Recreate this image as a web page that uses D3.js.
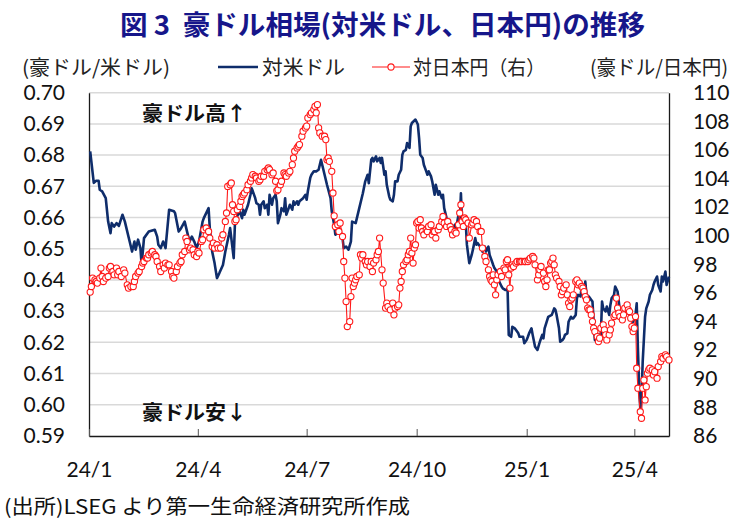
<!DOCTYPE html>
<html><head><meta charset="utf-8">
<script src="https://cdn.jsdelivr.net/npm/d3@7"></script>
<style>body{margin:0;background:#fff}svg{display:block}text{white-space:pre}</style>
</head><body>
<svg id="chart" width="751" height="525"></svg>
<script>
const usdDates = ["2024-01-02","2024-01-05","2024-01-07","2024-01-09","2024-01-10","2024-01-12","2024-01-15","2024-01-17","2024-01-19","2024-01-20","2024-01-22","2024-01-24","2024-01-26","2024-01-29","2024-01-31","2024-02-01","2024-02-04","2024-02-06","2024-02-08","2024-02-09","2024-02-11","2024-02-13","2024-02-14","2024-02-16","2024-02-20","2024-02-25","2024-02-27","2024-02-28","2024-03-01","2024-03-03","2024-03-05","2024-03-08","2024-03-12","2024-03-13","2024-03-16","2024-03-18","2024-03-21","2024-03-23","2024-03-25","2024-03-27","2024-03-29","2024-03-31","2024-04-02","2024-04-05","2024-04-06","2024-04-10","2024-04-11","2024-04-13","2024-04-15","2024-04-17","2024-04-19","2024-04-22","2024-04-24","2024-04-27","2024-04-28","2024-05-01","2024-05-02","2024-05-03","2024-05-06","2024-05-08","2024-05-09","2024-05-10","2024-05-13","2024-05-15","2024-05-16","2024-05-17","2024-05-19","2024-05-20","2024-05-22","2024-05-23","2024-05-24","2024-05-26","2024-05-27","2024-05-29","2024-05-30","2024-05-31","2024-06-02","2024-06-03","2024-06-05","2024-06-06","2024-06-07","2024-06-09","2024-06-10","2024-06-12","2024-06-13","2024-06-14","2024-06-16","2024-06-17","2024-06-19","2024-06-20","2024-06-21","2024-06-23","2024-06-24","2024-06-25","2024-06-28","2024-06-30","2024-07-01","2024-07-02","2024-07-04","2024-07-05","2024-07-07","2024-07-09","2024-07-11","2024-07-13","2024-07-14","2024-07-16","2024-07-18","2024-07-21","2024-07-22","2024-07-24","2024-07-25","2024-07-28","2024-07-31","2024-08-01","2024-08-03","2024-08-05","2024-08-07","2024-08-08","2024-08-11","2024-08-12","2024-08-14","2024-08-17","2024-08-19","2024-08-21","2024-08-22","2024-08-24","2024-08-25","2024-08-26","2024-08-28","2024-08-29","2024-08-31","2024-09-01","2024-09-02","2024-09-04","2024-09-05","2024-09-06","2024-09-08","2024-09-09","2024-09-11","2024-09-12","2024-09-13","2024-09-15","2024-09-16","2024-09-18","2024-09-19","2024-09-20","2024-09-22","2024-09-23","2024-09-25","2024-09-26","2024-09-27","2024-09-30","2024-10-02","2024-10-03","2024-10-04","2024-10-06","2024-10-07","2024-10-09","2024-10-10","2024-10-11","2024-10-13","2024-10-14","2024-10-16","2024-10-17","2024-10-19","2024-10-20","2024-10-22","2024-10-23","2024-10-24","2024-10-26","2024-10-27","2024-10-29","2024-10-30","2024-10-31","2024-11-02","2024-11-03","2024-11-05","2024-11-06","2024-11-07","2024-11-08","2024-11-10","2024-11-11","2024-11-12","2024-11-14","2024-11-16","2024-11-17","2024-11-19","2024-11-20","2024-11-21","2024-11-23","2024-11-24","2024-11-25","2024-11-27","2024-11-28","2024-11-30","2024-12-01","2024-12-02","2024-12-04","2024-12-05","2024-12-07","2024-12-08","2024-12-09","2024-12-11","2024-12-12","2024-12-14","2024-12-15","2024-12-16","2024-12-17","2024-12-19","2024-12-20","2024-12-22","2024-12-25","2024-12-26","2024-12-29","2024-12-30","2025-01-01","2025-01-02","2025-01-03","2025-01-05","2025-01-06","2025-01-08","2025-01-10","2025-01-12","2025-01-14","2025-01-15","2025-01-16","2025-01-19","2025-01-22","2025-01-24","2025-01-25","2025-01-26","2025-01-28","2025-01-29","2025-01-31","2025-02-01","2025-02-02","2025-02-04","2025-02-05","2025-02-07","2025-02-08","2025-02-09","2025-02-11","2025-02-12","2025-02-13","2025-02-15","2025-02-16","2025-02-18","2025-02-19","2025-02-20","2025-02-22","2025-02-23","2025-02-25","2025-02-26","2025-02-27","2025-03-01","2025-03-02","2025-03-04","2025-03-05","2025-03-06","2025-03-08","2025-03-09","2025-03-11","2025-03-12","2025-03-13","2025-03-15","2025-03-16","2025-03-18","2025-03-19","2025-03-20","2025-03-22","2025-03-23","2025-03-24","2025-03-26","2025-03-27","2025-03-29","2025-03-30","2025-03-31","2025-04-02","2025-04-03","2025-04-04","2025-04-05","2025-04-06","2025-04-07","2025-04-08","2025-04-10","2025-04-11","2025-04-13","2025-04-14","2025-04-16","2025-04-17","2025-04-18","2025-04-20","2025-04-21","2025-04-23","2025-04-24","2025-04-25","2025-04-27","2025-04-28","2025-04-30"];
const usdRates = [0.6812,0.6711,0.6718,0.6718,0.6689,0.6684,0.6662,0.6587,0.6550,0.6582,0.6571,0.6582,0.6573,0.6609,0.6587,0.6571,0.6523,0.6491,0.6523,0.6497,0.6529,0.6502,0.6448,0.6534,0.6555,0.6561,0.6539,0.6513,0.6502,0.6523,0.6502,0.6625,0.6620,0.6614,0.6555,0.6566,0.6587,0.6555,0.6523,0.6539,0.6523,0.6502,0.6523,0.6587,0.6598,0.6630,0.6566,0.6491,0.6454,0.6406,0.6422,0.6448,0.6491,0.6545,0.6566,0.6470,0.6577,0.6598,0.6620,0.6598,0.6625,0.6609,0.6641,0.6673,0.6694,0.6684,0.6662,0.6646,0.6641,0.6609,0.6641,0.6652,0.6630,0.6641,0.6609,0.6673,0.6641,0.6662,0.6673,0.6652,0.6582,0.6609,0.6630,0.6620,0.6662,0.6609,0.6630,0.6641,0.6625,0.6652,0.6641,0.6652,0.6641,0.6652,0.6662,0.6673,0.6657,0.6684,0.6727,0.6737,0.6748,0.6748,0.6753,0.6785,0.6769,0.6737,0.6705,0.6662,0.6620,0.6577,0.6545,0.6555,0.6534,0.6502,0.6507,0.6497,0.6523,0.6587,0.6582,0.6598,0.6630,0.6678,0.6716,0.6737,0.6710,0.6785,0.6791,0.6780,0.6796,0.6780,0.6791,0.6775,0.6791,0.6737,0.6748,0.6705,0.6668,0.6657,0.6652,0.6673,0.6716,0.6716,0.6737,0.6753,0.6801,0.6812,0.6817,0.6839,0.6823,0.6892,0.6903,0.6914,0.6898,0.6855,0.6801,0.6791,0.6769,0.6748,0.6737,0.6748,0.6732,0.6716,0.6673,0.6705,0.6673,0.6684,0.6662,0.6673,0.6630,0.6598,0.6587,0.6582,0.6571,0.6566,0.6577,0.6566,0.6609,0.6587,0.6678,0.6577,0.6582,0.6587,0.6513,0.6454,0.6480,0.6497,0.6534,0.6513,0.6518,0.6507,0.6502,0.6491,0.6507,0.6491,0.6507,0.6480,0.6470,0.6448,0.6438,0.6427,0.6411,0.6395,0.6379,0.6373,0.6368,0.6368,0.6373,0.6224,0.6218,0.6250,0.6245,0.6229,0.6218,0.6218,0.6197,0.6208,0.6218,0.6229,0.6245,0.6224,0.6186,0.6176,0.6202,0.6224,0.6213,0.6245,0.6282,0.6288,0.6309,0.6304,0.6288,0.6245,0.6202,0.6208,0.6213,0.6224,0.6229,0.6266,0.6282,0.6277,0.6277,0.6288,0.6341,0.6352,0.6347,0.6379,0.6352,0.6395,0.6352,0.6347,0.6341,0.6331,0.6266,0.6208,0.6202,0.6224,0.6224,0.6331,0.6309,0.6299,0.6315,0.6288,0.6320,0.6341,0.6352,0.6379,0.6363,0.6331,0.6299,0.6288,0.6283,0.6299,0.6304,0.6293,0.6283,0.6277,0.6266,0.6288,0.6325,0.6181,0.6063,0.5988,0.6020,0.6138,0.6282,0.6309,0.6331,0.6352,0.6368,0.6384,0.6395,0.6411,0.6384,0.6363,0.6411,0.6395,0.6427,0.6384,0.6411];

const jpyDates = ["2024-01-02","2024-01-03","2024-01-04","2024-01-06","2024-01-07","2024-01-08","2024-01-10","2024-01-11","2024-01-12","2024-01-13","2024-01-15","2024-01-17","2024-01-18","2024-01-19","2024-01-21","2024-01-22","2024-01-24","2024-01-25","2024-01-26","2024-01-28","2024-01-30","2024-01-31","2024-02-02","2024-02-03","2024-02-05","2024-02-07","2024-02-08","2024-02-09","2024-02-11","2024-02-12","2024-02-14","2024-02-15","2024-02-16","2024-02-18","2024-02-19","2024-02-20","2024-02-22","2024-02-23","2024-02-25","2024-02-26","2024-02-27","2024-02-29","2024-03-01","2024-03-03","2024-03-04","2024-03-05","2024-03-07","2024-03-08","2024-03-10","2024-03-11","2024-03-12","2024-03-14","2024-03-15","2024-03-17","2024-03-18","2024-03-19","2024-03-21","2024-03-22","2024-03-23","2024-03-25","2024-03-26","2024-03-28","2024-03-29","2024-03-31","2024-04-01","2024-04-02","2024-04-04","2024-04-05","2024-04-06","2024-04-08","2024-04-10","2024-04-11","2024-04-13","2024-04-14","2024-04-15","2024-04-17","2024-04-18","2024-04-20","2024-04-21","2024-04-22","2024-04-24","2024-04-25","2024-04-26","2024-04-28","2024-04-29","2024-04-30","2024-05-01","2024-05-02","2024-05-03","2024-05-04","2024-05-06","2024-05-07","2024-05-08","2024-05-09","2024-05-10","2024-05-12","2024-05-13","2024-05-15","2024-05-16","2024-05-17","2024-05-19","2024-05-20","2024-05-22","2024-05-23","2024-05-24","2024-05-26","2024-05-27","2024-05-29","2024-05-30","2024-05-31","2024-06-02","2024-06-03","2024-06-05","2024-06-06","2024-06-07","2024-06-09","2024-06-10","2024-06-12","2024-06-13","2024-06-14","2024-06-16","2024-06-17","2024-06-19","2024-06-20","2024-06-21","2024-06-23","2024-06-24","2024-06-25","2024-06-27","2024-06-28","2024-06-30","2024-07-01","2024-07-02","2024-07-04","2024-07-05","2024-07-07","2024-07-08","2024-07-09","2024-07-10","2024-07-11","2024-07-12","2024-07-14","2024-07-16","2024-07-17","2024-07-18","2024-07-19","2024-07-20","2024-07-22","2024-07-23","2024-07-24","2024-07-25","2024-07-27","2024-07-28","2024-07-29","2024-07-31","2024-08-01","2024-08-02","2024-08-03","2024-08-04","2024-08-06","2024-08-07","2024-08-08","2024-08-09","2024-08-10","2024-08-11","2024-08-12","2024-08-14","2024-08-15","2024-08-16","2024-08-17","2024-08-19","2024-08-20","2024-08-21","2024-08-23","2024-08-24","2024-08-25","2024-08-26","2024-08-28","2024-08-29","2024-08-30","2024-08-31","2024-09-02","2024-09-03","2024-09-05","2024-09-06","2024-09-07","2024-09-09","2024-09-11","2024-09-12","2024-09-13","2024-09-15","2024-09-16","2024-09-17","2024-09-18","2024-09-19","2024-09-20","2024-09-22","2024-09-23","2024-09-24","2024-09-25","2024-09-26","2024-09-27","2024-09-28","2024-09-29","2024-09-30","2024-10-01","2024-10-02","2024-10-03","2024-10-04","2024-10-05","2024-10-06","2024-10-07","2024-10-09","2024-10-10","2024-10-11","2024-10-13","2024-10-14","2024-10-15","2024-10-16","2024-10-17","2024-10-19","2024-10-20","2024-10-22","2024-10-23","2024-10-24","2024-10-26","2024-10-27","2024-10-29","2024-10-30","2024-10-31","2024-11-02","2024-11-03","2024-11-05","2024-11-06","2024-11-07","2024-11-08","2024-11-09","2024-11-10","2024-11-11","2024-11-13","2024-11-14","2024-11-16","2024-11-17","2024-11-18","2024-11-20","2024-11-21","2024-11-23","2024-11-24","2024-11-25","2024-11-27","2024-11-28","2024-11-30","2024-12-01","2024-12-02","2024-12-03","2024-12-04","2024-12-05","2024-12-06","2024-12-07","2024-12-08","2024-12-10","2024-12-11","2024-12-13","2024-12-14","2024-12-15","2024-12-16","2024-12-17","2024-12-18","2024-12-19","2024-12-20","2024-12-21","2024-12-23","2024-12-24","2024-12-26","2024-12-27","2024-12-28","2024-12-30","2024-12-31","2025-01-02","2025-01-03","2025-01-04","2025-01-06","2025-01-07","2025-01-08","2025-01-10","2025-01-11","2025-01-12","2025-01-13","2025-01-15","2025-01-16","2025-01-17","2025-01-18","2025-01-19","2025-01-20","2025-01-21","2025-01-22","2025-01-23","2025-01-24","2025-01-25","2025-01-26","2025-01-28","2025-01-29","2025-01-30","2025-01-31","2025-02-01","2025-02-03","2025-02-04","2025-02-05","2025-02-06","2025-02-07","2025-02-08","2025-02-09","2025-02-11","2025-02-12","2025-02-13","2025-02-14","2025-02-16","2025-02-17","2025-02-18","2025-02-19","2025-02-20","2025-02-21","2025-02-22","2025-02-23","2025-02-24","2025-02-25","2025-02-26","2025-02-27","2025-03-01","2025-03-02","2025-03-03","2025-03-04","2025-03-06","2025-03-07","2025-03-08","2025-03-09","2025-03-11","2025-03-12","2025-03-13","2025-03-15","2025-03-16","2025-03-17","2025-03-18","2025-03-19","2025-03-20","2025-03-22","2025-03-23","2025-03-24","2025-03-26","2025-03-27","2025-03-28","2025-03-29","2025-03-30","2025-03-31","2025-04-01","2025-04-02","2025-04-03","2025-04-04","2025-04-06","2025-04-07","2025-04-08","2025-04-09","2025-04-10","2025-04-11","2025-04-12","2025-04-13","2025-04-14","2025-04-16","2025-04-17","2025-04-18","2025-04-20","2025-04-21","2025-04-23","2025-04-24","2025-04-25","2025-04-27","2025-04-28","2025-04-30"];
const jpyRates = [96.06,96.45,97.04,96.92,96.80,96.69,97.04,97.74,97.15,96.80,97.04,97.15,97.74,97.85,97.50,97.27,97.74,97.27,97.50,97.15,97.62,97.39,96.57,96.34,96.45,96.45,96.80,97.15,97.39,97.50,97.85,98.09,98.20,98.44,98.44,98.67,98.79,98.90,98.67,98.55,98.20,97.85,97.50,97.97,97.74,98.09,97.97,97.97,97.50,97.15,97.04,97.50,97.85,98.09,98.20,98.67,98.90,99.84,99.60,99.02,99.14,99.02,98.67,98.55,98.90,98.79,99.60,99.72,100.42,100.54,100.30,99.84,99.25,99.49,99.14,99.37,99.14,99.14,99.84,100.07,101.00,101.59,103.45,103.57,103.69,102.17,101.70,101.00,101.12,101.82,102.05,102.41,102.75,102.87,102.99,103.22,103.57,103.81,104.04,104.27,104.16,104.04,103.81,103.92,104.16,104.16,104.50,104.62,104.74,104.62,104.27,104.39,103.81,103.14,103.22,103.57,103.81,104.39,104.27,104.16,104.39,104.50,104.97,105.44,105.91,106.14,106.26,106.37,106.96,107.31,107.54,107.66,108.24,108.47,108.59,108.82,109.05,108.59,109.17,107.54,107.19,106.96,106.96,106.72,105.32,105.44,105.20,104.50,102.99,101.39,100.65,100.77,100.30,100.89,99.95,98.20,97.04,95.40,93.65,94.00,95.75,97.04,96.45,96.69,96.92,97.15,97.27,98.67,98.44,98.67,98.20,97.97,98.20,97.85,98.20,97.50,98.09,98.32,98.67,98.90,99.84,97.62,96.69,94.94,95.29,95.05,94.82,95.29,94.47,94.94,95.05,95.17,96.34,96.80,97.50,97.97,98.20,98.32,98.67,98.90,99.84,98.79,98.09,99.14,99.37,100.89,101.00,100.54,101.12,100.54,100.30,100.07,100.42,100.30,100.65,100.77,100.07,100.30,100.30,99.84,100.42,100.65,101.00,101.35,100.89,100.65,101.00,100.65,100.42,100.07,100.30,100.19,100.77,101.59,102.17,101.00,100.65,101.24,101.12,100.89,99.84,100.77,100.89,101.12,101.00,100.65,100.30,100.30,99.14,98.55,98.20,97.62,97.15,96.92,96.80,97.27,96.57,95.87,96.92,97.27,97.50,97.15,97.74,97.62,98.20,98.32,97.27,96.34,97.74,97.97,97.85,98.09,98.20,98.20,98.20,98.20,98.20,98.20,98.20,98.32,98.44,98.55,98.44,97.97,96.92,97.27,97.62,97.85,97.39,96.80,96.45,96.92,97.62,97.62,98.09,98.20,98.44,97.97,97.27,97.04,96.80,96.45,95.87,96.10,96.34,96.57,95.87,95.29,95.05,95.52,95.64,95.87,96.80,96.92,96.57,96.69,96.45,96.34,96.10,95.75,95.52,94.94,94.82,94.82,94.47,94.00,93.54,93.30,92.95,92.60,92.84,93.54,93.77,93.42,93.07,92.72,93.07,93.42,93.89,94.35,94.47,95.64,94.94,94.59,94.35,94.12,94.47,94.94,95.17,94.82,94.70,94.24,93.65,93.30,93.54,94.35,90.74,89.34,87.70,87.24,89.34,89.92,88.52,89.45,90.39,90.62,90.74,90.62,90.27,90.50,90.04,90.85,91.20,91.55,91.44,91.67,91.55,91.32];

const leftTicks = [0.59,0.60,0.61,0.62,0.63,0.64,0.65,0.66,0.67,0.68,0.69,0.70];
const rightTicks = [86,88,90,92,94,96,98,100,102,104,106,108,110];
const xTickDates = ["2024-01-01","2024-04-01","2024-07-01","2024-10-01","2025-01-01","2025-04-01"];
const xTickLabels = ["24/1","24/4","24/7","24/10","25/1","25/4"];
const domainDates = ["2024-01-01","2025-04-30"];
const titleText = "図 3  豪ドル相場(対米ドル、日本円)の推移";
const seriesNames = ["対米ドル","対日本円（右）"];
const leftUnit = "(豪ドル/米ドル)";
const rightUnit = "(豪ドル/日本円)";
const noteHigh = "豪ドル高↑";
const noteLow = "豪ドル安↓";
const sourceText = "(出所)LSEG より第一生命経済研究所作成";

const JP = "'Noto Sans CJK JP','Noto Sans',sans-serif";
const NUM = "Lato,'Noto Sans',sans-serif";
const NAVY = "#0f2d6b", RED = "#ff1a1a";

const parse = d3.timeParse("%Y-%m-%d");
const usd = usdDates.map((d,i)=>({date:parse(d), v:usdRates[i]}));
const jpy = jpyDates.map((d,i)=>({date:parse(d), v:jpyRates[i]}));

const L = 89, R = 669, T = 92.7, B = 436;
const x = d3.scaleTime().domain(domainDates.map(parse)).range([L, R]);
const yL = d3.scaleLinear().domain([0.59, 0.70]).range([B, T]);
const yR = d3.scaleLinear().domain([86, 110]).range([B, T]);

const svg = d3.select("#chart");
svg.append("rect").attr("width",751).attr("height",525).attr("fill","#fff");

// gridlines
svg.append("g").selectAll("line").data(leftTicks.filter(t=>t>0.595)).join("line")
  .attr("x1",L).attr("x2",R).attr("y1",d=>yL(d)).attr("y2",d=>yL(d))
  .attr("stroke","#d9d9d9").attr("stroke-width",1.5);

// axes
const gl = svg.append("g").attr("transform",`translate(${L},0)`)
  .call(d3.axisLeft(yL).tickValues(leftTicks).tickFormat(d3.format(".2f")).tickSize(0).tickPadding(24));
const gr = svg.append("g").attr("transform",`translate(${R},0)`)
  .call(d3.axisRight(yR).tickValues(rightTicks).tickFormat(d3.format("d")).tickSize(0).tickPadding(24));
const gb = svg.append("g").attr("transform",`translate(0,${B})`)
  .call(d3.axisBottom(x).tickValues(xTickDates.map(parse)).tickFormat((d,i)=>xTickLabels[i]).tickSizeInner(-7).tickSizeOuter(0).tickPadding(26));
[gl,gr,gb].forEach(g=>{
  g.attr("font-family",null).attr("font-size",null);
  g.selectAll("text").attr("font-family",NUM).attr("font-size",21).attr("fill","#111");
  g.select(".domain").attr("stroke","#1a1a1a").attr("stroke-width",1.3);
  g.selectAll(".tick line").attr("stroke","#555").attr("stroke-width",1);
});

// series
const lineU = d3.line().x(d=>x(d.date)).y(d=>yL(d.v));
const lineJ = d3.line().x(d=>x(d.date)).y(d=>yR(d.v));
svg.append("path").datum(usd).attr("d",lineU).attr("fill","none")
  .attr("stroke",NAVY).attr("stroke-width",2.6).attr("stroke-linejoin","round");
svg.append("path").datum(jpy).attr("d",lineJ).attr("fill","none")
  .attr("stroke",RED).attr("stroke-width",1.1);
svg.append("g").selectAll("circle").data(jpy).join("circle")
  .attr("cx",d=>x(d.date)).attr("cy",d=>yR(d.v)).attr("r",3.1)
  .attr("fill","#fff").attr("stroke",RED).attr("stroke-width",1.1);

// annotations
svg.append("text").attr("x",142).attr("y",121).text(noteHigh)
  .attr("font-family",JP).attr("font-size",20).attr("font-weight","bold").attr("fill","#111")
  .attr("textLength",105).attr("lengthAdjust","spacingAndGlyphs");
svg.append("text").attr("x",142).attr("y",420).text(noteLow)
  .attr("font-family",JP).attr("font-size",20).attr("font-weight","bold").attr("fill","#111")
  .attr("textLength",105).attr("lengthAdjust","spacingAndGlyphs");

// title
svg.append("text").attr("x",120).attr("y",35).text(titleText)
  .attr("font-family",JP).attr("font-size",27).attr("font-weight","bold").attr("fill","#16168a")
  .attr("textLength",525).attr("lengthAdjust","spacingAndGlyphs");

// units
svg.append("text").attr("x",22).attr("y",75).text(leftUnit)
  .attr("font-family",JP).attr("font-size",20).attr("fill","#222")
  .attr("textLength",148).attr("lengthAdjust","spacingAndGlyphs");
svg.append("text").attr("x",590).attr("y",75).text(rightUnit)
  .attr("font-family",JP).attr("font-size",20).attr("fill","#222")
  .attr("textLength",138).attr("lengthAdjust","spacingAndGlyphs");

// legend
const lg = svg.append("g");
lg.append("line").attr("x1",218).attr("x2",258).attr("y1",67).attr("y2",67)
  .attr("stroke",NAVY).attr("stroke-width",2.6);
lg.append("text").attr("x",262).attr("y",75).text(seriesNames[0])
  .attr("font-family",JP).attr("font-size",20).attr("fill","#222")
  .attr("textLength",83).attr("lengthAdjust","spacingAndGlyphs");
lg.append("line").attr("x1",372).attr("x2",410).attr("y1",67).attr("y2",67)
  .attr("stroke",RED).attr("stroke-width",1.1);
lg.append("circle").attr("cx",391).attr("cy",67).attr("r",3.1)
  .attr("fill","#fff").attr("stroke",RED).attr("stroke-width",1.1);
lg.append("text").attr("x",413).attr("y",75).text(seriesNames[1])
  .attr("font-family",JP).attr("font-size",20).attr("fill","#222")
  .attr("textLength",132).attr("lengthAdjust","spacingAndGlyphs");

// source
svg.append("text").attr("x",4).attr("y",514).text(sourceText)
  .attr("font-family",JP).attr("font-size",20).attr("fill","#111")
  .attr("textLength",406).attr("lengthAdjust","spacingAndGlyphs");
</script>
</body></html>
